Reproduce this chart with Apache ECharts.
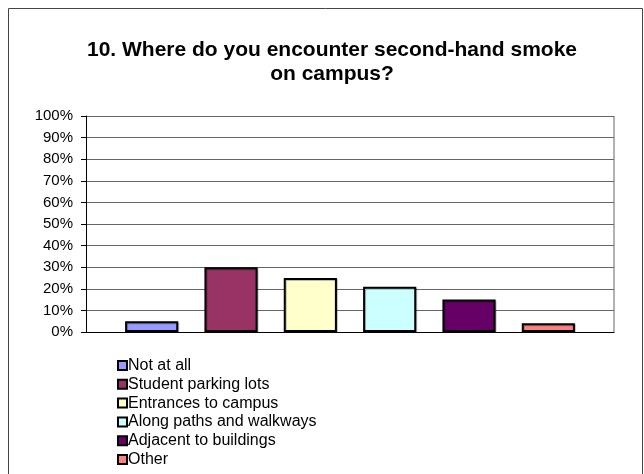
<!DOCTYPE html>
<html>
<head>
<meta charset="utf-8">
<script src="https://cdn.jsdelivr.net/npm/echarts@6/dist/echarts.min.js"></script>
<style>
  html, body { margin: 0; padding: 0; background: #fff; }
  #main { width: 644px; height: 474px; }
</style>
</head>
<body>
<div id="main"></div>
<script>
// survey answers, % of respondents
var categories = ['Not at all', 'Student parking lots', 'Entrances to campus',
  'Along paths and walkways', 'Adjacent to buildings', 'Other'];
var values = [5, 30, 25, 21, 15, 4];
var colors = ['#9999FF', '#993366', '#FFFFCC', '#CCFFFF', '#660066', '#FF8080'];
var yTicks = [0, 10, 20, 30, 40, 50, 60, 70, 80, 90, 100];

var font = 'Liberation Sans, Arial, sans-serif';
var dom = document.getElementById('main');
var myChart = echarts.init(dom);

// one series per category so each one gets a legend entry
var series = categories.map(function (name, i) {
  return {
    name: name,
    type: 'bar',
    stack: 'all',
    xAxisIndex: 1,
    yAxisIndex: 1,
    barWidth: '67%',
    itemStyle: { color: colors[i], borderColor: '#000', borderWidth: 2,
      shadowColor: 'rgba(0,0,0,0.25)', shadowOffsetX: 1, shadowOffsetY: 1 },
    data: values.map(function (v, j) { return j === i ? v : '-'; })
  };
});

var option = {
  backgroundColor: '#fff',
  animation: false,
  title: {
    text: '10. Where do you encounter second-hand smoke\non campus?',
    left: 327,
    top: 33,
    textAlign: 'center',
    textStyle: { fontFamily: font, fontSize: 21, fontWeight: 'bold', color: '#000', lineHeight: 24 }
  },
  legend: {
    orient: 'vertical',
    left: 112,
    top: 352,
    height: 130,
    itemWidth: 9,
    itemHeight: 9,
    itemGap: 1.8,
    icon: 'rect',
    itemStyle: { borderColor: '#000', borderWidth: 2 },
    textStyle: { fontFamily: font, fontSize: 16, color: '#000', lineHeight: 17, padding: [0, 0, 0, -4] },
    data: categories
  },
  // grid 0: frame, gridlines and labels; grid 1: the bars (Excel leaves side gaps)
  grid: [
    { left: 86, right: 30, top: 116, bottom: 142 },
    { left: 112, right: 56, top: 116, bottom: 142 }
  ],
  xAxis: [
    {
      gridIndex: 0,
      type: 'category',
      data: categories,
      axisLabel: { show: false },
      axisTick: { show: false },
      axisLine: { lineStyle: { color: '#000', width: 1 } }
    },
    {
      gridIndex: 1,
      type: 'category',
      data: categories,
      show: false
    }
  ],
  yAxis: [
    {
      gridIndex: 0,
      type: 'value',
      min: yTicks[0],
      max: yTicks[yTicks.length - 1],
      interval: 10,
      axisLabel: { formatter: '{value}%', fontFamily: font, fontSize: 15, color: '#000', margin: 13 },
      axisLine: { show: true, lineStyle: { color: '#000', width: 1 } },
      axisTick: { show: true, length: 5, lineStyle: { color: '#000' } },
      splitLine: { lineStyle: { color: '#666', width: 1 } }
    },
    {
      gridIndex: 1,
      type: 'value',
      min: yTicks[0],
      max: yTicks[yTicks.length - 1],
      show: false,
      splitLine: { show: false }
    }
  ],
  graphic: [
    { type: 'rect', shape: { x: 8.5, y: 8.5, width: 634, height: 480 },
      style: { fill: null, stroke: '#444', lineWidth: 1 }, silent: true },
    { type: 'line', shape: { x1: 614, y1: 116, x2: 614, y2: 332 },
      style: { stroke: '#999', lineWidth: 1.5 }, silent: true }
  ],
  series: series
};

if (option && typeof option === "object") {
  myChart.setOption(option, true);
}
</script>
</body>
</html>
